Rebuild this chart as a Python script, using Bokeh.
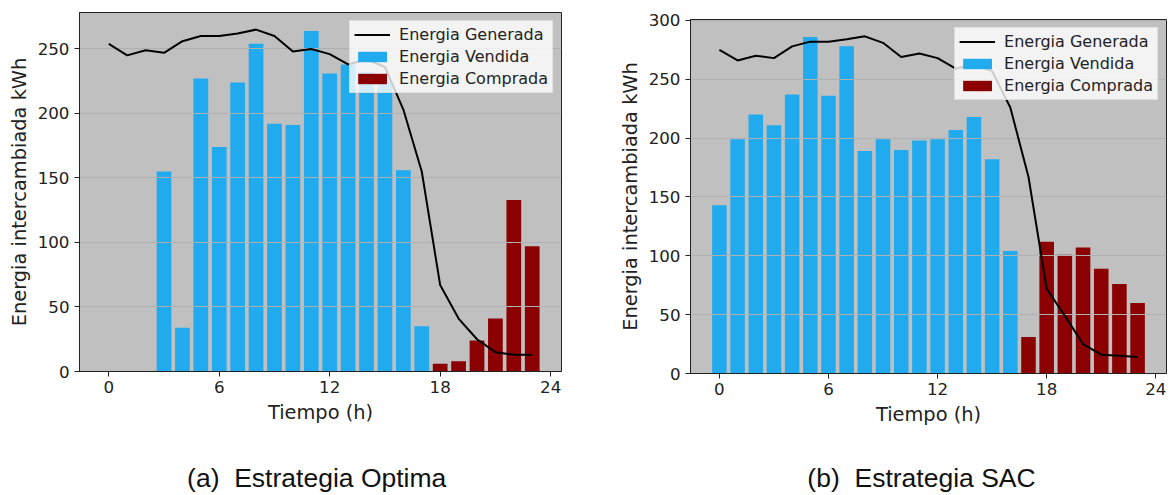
from bokeh.plotting import figure
from bokeh.layouts import column, row
from bokeh.models import Range1d, FixedTicker, Legend, LegendItem, Div
from bokeh.embed import file_html
from bokeh.resources import INLINE

# Hourly energy exchange (kWh) for two dispatch strategies
horas = list(range(24))

# (a) optimal strategy
gen_opt = [254, 245, 249, 247, 256, 260, 260, 262, 265, 260, 248, 250,
           246, 238, 242, 236, 203, 155, 67, 41, 25, 15, 13, 13]
vend_opt = [0, 0, 0, 155, 34, 227, 174, 224, 254, 192, 191, 264,
            231, 238, 232, 225, 156, 35, 0, 0, 0, 0, 0, 0]
comp_opt = [0, 0, 0, 0, 0, 0, 0, 0, 0, 0, 0, 0,
            0, 0, 0, 0, 0, 0, 6, 8, 24, 41, 133, 97]

# (b) SAC agent
gen_sac = [275, 266, 270, 268, 278, 282, 282, 284, 286.5, 281, 269, 272,
           268, 259, 263, 257, 226, 167, 72, 49, 25, 16, 15, 14]
vend_sac = [143, 199, 220, 211, 237, 286, 236, 278, 189, 199, 190, 198,
            199, 207, 218, 182, 104, 0, 0, 0, 0, 0, 0, 0]
comp_sac = [0, 0, 0, 0, 0, 0, 0, 0, 0, 0, 0, 0,
            0, 0, 0, 0, 0, 31, 112, 101, 107, 89, 76, 60]

x_ticks = [0, 6, 12, 18, 24]
y_ticks_opt = [0, 50, 100, 150, 200, 250]
y_ticks_sac = [0, 50, 100, 150, 200, 250, 300]

series_names = ["Energia Generada", "Energia Vendida", "Energia Comprada"]
captions = ["(a)  Estrategia Optima", "(b)  Estrategia SAC"]

AZUL = "#22aaee"
ROJO = "#8b0000"
BAR_W = 0.8


def grafico(gen, vend, comp, yticks, frame_w, frame_h, left, right, top, bottom):
    lo, hi = horas[0] - BAR_W / 2, horas[-1] + BAR_W / 2
    pad = 0.05 * (hi - lo)
    ymax = 1.05 * max(max(gen), max(vend), max(comp))
    p = figure(frame_width=frame_w, frame_height=frame_h,
               min_border_left=left, min_border_right=right,
               min_border_top=top, min_border_bottom=bottom,
               x_range=Range1d(lo - pad, hi + pad), y_range=Range1d(0, ymax),
               title_location=None,
               output_backend="svg", toolbar_location=None)
    p.background_fill_color = "#c0c0c0"
    p.border_fill_color = "white"
    p.outline_line_color = "#222222"
    p.outline_line_width = 1

    r_v = p.vbar(x=horas, top=vend, width=BAR_W, fill_color=AZUL,
                 line_color=None, level="image")
    r_c = p.vbar(x=horas, top=comp, width=BAR_W, fill_color=ROJO,
                 line_color=None, level="image")
    r_g = p.line(x=horas, y=gen, line_color="black", line_width=2)

    p.xgrid.visible = False
    p.ygrid.grid_line_color = "#b0b0b0"
    p.ygrid.grid_line_width = 1

    p.xaxis.ticker = FixedTicker(ticks=x_ticks)
    p.yaxis.ticker = FixedTicker(ticks=yticks)
    p.xaxis.axis_label = "Tiempo (h)"
    p.yaxis.axis_label = "Energia intercambiada kWh"
    for ax in (p.xaxis, p.yaxis):
        ax.minor_tick_line_color = None
        ax.major_tick_in = 0
        ax.major_tick_out = 5
        ax.major_tick_line_color = "#222222"
        ax.axis_line_color = "#222222"
        ax.major_label_text_font = "DejaVu Sans"
        ax.major_label_text_font_size = "16.7px"
        ax.major_label_text_color = "#222222"
        ax.axis_label_text_font = "DejaVu Sans"
        ax.axis_label_text_font_size = "19.4px"
        ax.axis_label_text_font_style = "normal"
        ax.axis_label_text_color = "#222222"
    p.xaxis.major_label_standoff = 4
    p.yaxis.major_label_standoff = 5
    p.xaxis.axis_label_standoff = 5
    p.yaxis.axis_label_standoff = 4

    legend = Legend(items=[LegendItem(label=series_names[0], renderers=[r_g]),
                           LegendItem(label=series_names[1], renderers=[r_v]),
                           LegendItem(label=series_names[2], renderers=[r_c])],
                    location="top_right", margin=8, padding=4, spacing=3,
                    label_height=17, glyph_height=13, glyph_width=36,
                    label_standoff=9,
                    label_text_font="DejaVu Sans", label_text_font_size="16px",
                    label_text_color="#222222",
                    background_fill_color="white", background_fill_alpha=0.8,
                    border_line_color="#cccccc", border_line_width=1)
    p.add_layout(legend)
    return p


def pie(texto, ancho, cx):
    # caption line under each sub-figure
    html = ('<div style="position:relative;height:55px;">'
            '<span style="position:absolute;left:%.1fpx;top:23px;'
            'transform:translateX(-50%%);white-space:pre;'
            'font-family:\'Liberation Sans\',Arial,sans-serif;font-size:26.5px;'
            'line-height:normal;color:#111111;">%s</span></div>') % (cx, texto)
    return Div(text=html, width=ancho, height=55, margin=0)


p1 = grafico(gen_opt, vend_opt, comp_opt, y_ticks_opt, 482, 359, 79, 39, 12, 69)
p2 = grafico(gen_sac, vend_sac, comp_sac, y_ticks_sac, 476, 354, 90, 3, 19, 67)

layout = row(column(p1, pie(captions[0], 560, 316.7)),
             column(p2, pie(captions[1], 540, 321.5)))
open("out.html", "w").write(file_html(layout, INLINE))
